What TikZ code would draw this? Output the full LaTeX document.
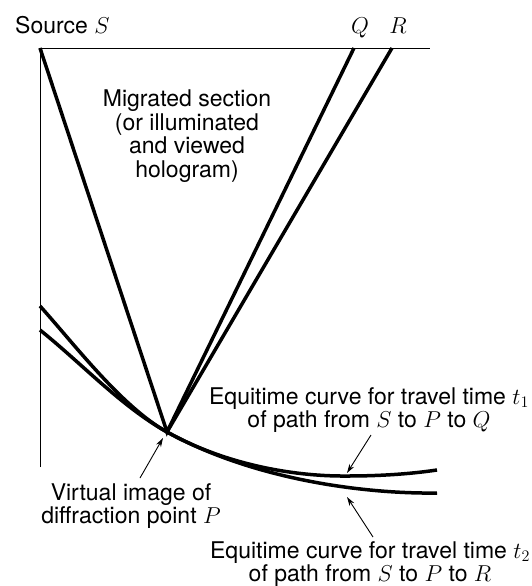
\RequirePackage{fix-cm}
\documentclass[tikz,border=0pt]{standalone}
\usepackage{amsmath}
\usepackage{fontspec}
\setmainfont{TeX Gyre Heros}
\usepackage{tikz}
\usetikzlibrary{arrows.meta, positioning}

\begin{document}
\begin{tikzpicture}[x=1pt, y=-1pt, >={Stealth[length=9pt,width=5.5pt]},
                    every node/.style={font=\fontsize{23}{23}\selectfont, inner sep=0pt},
                    axe/.style={line width=0.9pt},
                    rayon/.style={line width=3.5pt},
                    courbe/.style={line width=3.5pt},
                    fleche/.style={->, line width=0.9pt},
                    bloc/.style={align=center, anchor=north}]
    \useasboundingbox (0,0) rectangle (531,586);

    % Points de la section
    \coordinate (S) at (40,48);
    \coordinate (Q) at (354,48);
    \coordinate (R) at (392,48);
    \coordinate (P) at (167,432);
    \coordinate (haut) at (430,48);
    \coordinate (bas) at (40,467);

    % Etiquettes
    \node[anchor=base west] (source) at (15,34) {Source $S$};
    \node[anchor=base] (labQ) at (360,34) {$Q$};
    \node[anchor=base] (labR) at (398,34) {$R$};
    \node[bloc, font=\fontsize{23}{23.5}\selectfont] (migre) at (187,90)
        {Migrated section\\(or illuminated\\and viewed\\hologram)};
    \node[bloc] (virtuel) at (131,483) {Virtual image of\\diffraction point $P$};
    \node[bloc] (eqA) at (369,387) {Equitime curve for travel time $t_1$\\of path from $S$ to $P$ to $Q$};
    \node[bloc] (eqB) at (370,541) {Equitime curve for travel time $t_2$\\of path from $S$ to $P$ to $R$};

    % Axes
    \draw[axe] (bas) -- (S) -- (haut);

    % Rayons
    \draw[rayon] (S) -- (P) -- (Q);
    \draw[rayon] (P) -- (R);

    % Courbes d'egal temps
    \coordinate (t1g) at (40,306);
    \coordinate (t1m) at (347,476);
    \coordinate (t1d) at (437,470);
    \coordinate (t2g) at (40,330);
    \coordinate (t2d) at (437,493);
    \draw[courbe] (t1g) .. controls (75,345) and (122,407) .. (P)
                        .. controls (230,467) and (300,476.5) .. (t1m)
                        .. controls (380,476) and (410,474) .. (t1d);
    \draw[courbe] (t2g) .. controls (80,362) and (122,407) .. (P)
                        .. controls (257,481.5) and (370,494) .. (t2d);

    % Fleches des legendes
    \coordinate (vq) at (140,478);
    \coordinate (vp) at (163,438);
    \coordinate (aq) at (371,435);
    \coordinate (ap) at (347,473);
    \coordinate (bq) at (373,537);
    \coordinate (bp) at (347,497);
    \draw[fleche] (vq) -- (vp);
    \draw[fleche] (aq) -- (ap);
    \draw[fleche] (bq) -- (bp);
\end{tikzpicture}
\end{document}
